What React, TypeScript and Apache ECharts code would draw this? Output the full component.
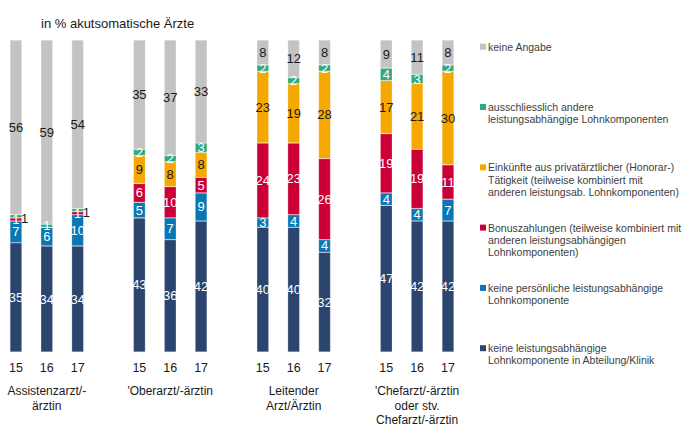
import React, { useEffect, useRef } from 'react';
import * as echarts from 'echarts';

const years = ['15', '16', '17'];
const groups = [
  'Assistenzarzt/-\närztin',
  "'Oberarzt/-ärztin",
  'Leitender\nArzt/Ärztin',
  "'Chefarzt/-ärztin\noder stv.\nChefarzt/-ärztin",
];

// values in order group × year: A15, A16, A17, O15, O16, O17, L15, L16, L17, C15, C16, C17
const keineLeistung = [35, 34, 34, 43, 36, 42, 40, 40, 32, 47, 42, 42];
const keinePersoenlich = [7, 6, 10, 5, 7, 9, 3, 4, 4, 4, 4, 7];
const bonus = [1, 0, 1, 6, 10, 5, 24, 23, 26, 19, 19, 11];
const einkuenfte = [0, 0, 0, 9, 8, 8, 23, 19, 28, 17, 21, 30];
const andere = [1, 1, 1, 2, 2, 3, 2, 2, 2, 4, 3, 2];
const keineAngabe = [56, 59, 54, 35, 37, 33, 8, 12, 8, 9, 11, 8];

const seriesNames = [
  'keine leistungsabhängige\nLohnkomponente in Abteilung/Klinik',
  'keine persönliche leistungsabhängige\nLohnkomponente',
  'Bonuszahlungen (teilweise kombiniert mit\nanderen leistungsabhängigen\nLohnkomponenten)',
  'Einkünfte aus privatärztlicher (Honorar-)\nTätigkeit (teilweise kombiniert mit\nanderen leistungsab. Lohnkomponenten)',
  'ausschliesslich andere\nleistungsabhängige Lohnkomponenten',
  'keine Angabe',
];
const seriesValues = [keineLeistung, keinePersoenlich, bonus, einkuenfte, andere, keineAngabe];
const colors = ['#2b456e', '#0a77b5', '#cc0036', '#f5a800', '#2eaa7e', '#c3c3c3'];
const labelColors = ['#ffffff', '#ffffff', '#ffffff', '#1a1a1a', '#ffffff', '#1a1a1a'];
// green labels pushed outside the bar (indices within group×year list)
const outsideGreen = [0, 2];

const FONT = "'Liberation Sans', Arial, sans-serif";

export default function App() {
  const ref = useRef<HTMLDivElement>(null);
  useEffect(() => {
    if (!ref.current) return;
    const chart = echarts.init(ref.current, undefined, { renderer: 'svg' });

    const yearSlots: string[] = [];
    const groupSlots: string[] = [];
    const slotIndex: number[] = []; // -1 for gap
    groups.forEach((g, gi) => {
      years.forEach((y, yi) => {
        yearSlots.push(y);
        groupSlots.push(yi === 1 ? g : '');
        slotIndex.push(gi * 3 + yi);
      });
      if (gi < groups.length - 1) {
        yearSlots.push('');
        groupSlots.push('');
        slotIndex.push(-1);
      }
    });

    const series = seriesValues.map((vals, si) => ({
      name: seriesNames[si],
      type: 'bar',
      stack: 'total',
      barWidth: 12,
      xAxisIndex: 0,
      itemStyle: { color: colors[si], borderColor: 'rgba(255,255,255,0.45)', borderWidth: 0.5 },
      label: {
        show: true,
        position: 'inside',
        fontFamily: FONT,
        fontSize: 13,
        color: labelColors[si],
        formatter: (p: any) => (p.value ? String(p.value) : ''),
      },
      data: slotIndex.map((idx) => {
        if (idx < 0) return '-';
        const v = vals[idx];
        if (si === 4 && outsideGreen.includes(idx)) {
          return {
            value: v,
            label: { position: 'right', distance: 0, color: '#1a1a1a', offset: [-1, 2] },
          };
        }
        return v;
      }),
    }));

    const legendGraphics: any[] = [];
    const lineH = 12.3;
    seriesNames
      .slice()
      .reverse()
      .forEach((name, i) => {
        const ci = seriesNames.length - 1 - i;
        const firstLineY = 46.7 + i * 60.3;
        legendGraphics.push({
          type: 'rect',
          shape: { x: 480, y: firstLineY - 3, width: 6, height: 6 },
          style: { fill: colors[ci] },
        });
        legendGraphics.push({
          type: 'text',
          x: 488,
          y: firstLineY - lineH / 2,
          style: {
            text: name,
            fill: '#404040',
            font: `10.5px ${FONT}`,
            lineHeight: lineH,
            verticalAlign: 'top',
          },
        });
      });

    chart.setOption({
      animation: false,
      title: {
        text: 'in % akutsomatische Ärzte',
        left: 36,
        top: 10,
        textStyle: { fontFamily: FONT, fontSize: 13, fontWeight: 'normal', color: '#1a1a1a', lineHeight: 16 },
      },
      grid: { left: 0.5, right: 223.6, top: 40, bottom: 72 },
      xAxis: [
        {
          type: 'category',
          data: yearSlots,
          position: 'bottom',
          axisLine: { show: false },
          axisTick: { show: false },
          axisLabel: { interval: 0, margin: 9, fontFamily: FONT, fontSize: 12.5, color: '#1a1a1a' },
        },
        {
          type: 'category',
          data: groupSlots,
          position: 'bottom',
          axisLine: { show: false },
          axisTick: { show: false },
          axisLabel: {
            interval: 0,
            margin: 32,
            fontFamily: FONT,
            fontSize: 12,
            lineHeight: 14.3,
            color: '#1a1a1a',
            align: 'center',
          },
        },
      ],
      yAxis: { type: 'value', min: 0, max: 100, show: false },
      series,
      graphic: legendGraphics,
    });
    return () => chart.dispose();
  }, []);
  return (
    <div
      ref={ref}
      style={{ position: 'absolute', left: 0, top: 0, width: 687, height: 427, background: '#fff' }}
    />
  );
}
